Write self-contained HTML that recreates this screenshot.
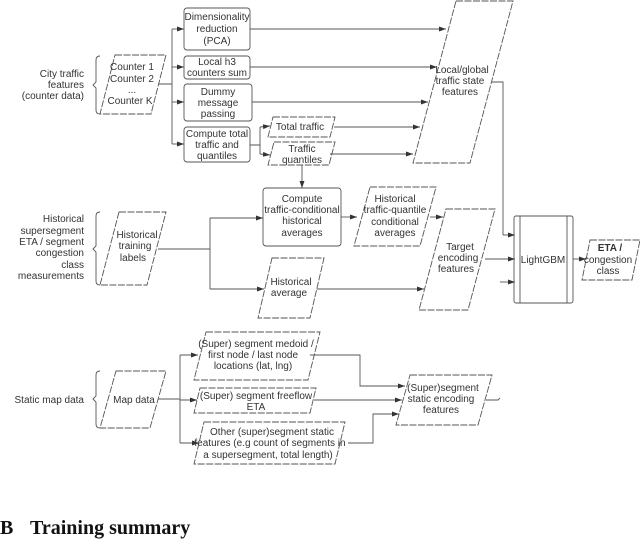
<!DOCTYPE html>
<html><head><meta charset="utf-8"><style>
html,body{margin:0;padding:0;background:#fff;}
svg{display:block;font-family:"Liberation Sans",sans-serif;}
text{font-size:10px;fill:#333;}
.p{fill:none;stroke:#555;stroke-width:0.9;stroke-dasharray:7 1.5;}
.r{fill:none;stroke:#555;stroke-width:0.9;}
.l{fill:none;stroke:#555;stroke-width:0.9;}
.m{text-anchor:middle;}
.e{text-anchor:end;}
</style></head><body>
<svg width="640" height="540" viewBox="0 0 640 540">
<defs><marker id="a" markerWidth="8" markerHeight="6" refX="7" refY="3" orient="auto" markerUnits="userSpaceOnUse"><path d="M0,0.5 L7,3 L0,5.5 Z" fill="#333"/></marker></defs>

<!-- City traffic -->
<text class="e" x="84" y="77">City traffic</text>
<text class="e" x="84" y="88">features</text>
<text class="e" x="84" y="99">(counter data)</text>
<path class="l" d="M100,56 Q96,56 96,60 L96,82 L93,85 L96,88 L96,110 Q96,114 100,114"/>
<path class="p" d="M115,55 L166,55 L151,114 L100,114 Z"/>
<text class="m" x="132" y="70">Counter 1</text>
<text class="m" x="132" y="82">Counter 2</text>
<text class="m" x="132" y="93">...</text>
<text class="m" x="130" y="104">Counter K</text>
<path class="l" d="M159,84 L172,84 M172,29 L172,144"/>
<path class="l" marker-end="url(#a)" d="M172,29 L184,29"/>
<path class="l" marker-end="url(#a)" d="M172,67 L184,67"/>
<path class="l" marker-end="url(#a)" d="M172,102 L184,102"/>
<path class="l" marker-end="url(#a)" d="M172,144 L184,144"/>

<rect class="r" x="184" y="8" width="66" height="42" rx="3"/>
<text class="m" x="217" y="20">Dimensionality</text>
<text class="m" x="217" y="32">reduction</text>
<text class="m" x="217" y="44">(PCA)</text>
<rect class="r" x="184" y="56" width="66" height="23" rx="3"/>
<text class="m" x="217" y="65">Local h3</text>
<text class="m" x="217" y="76">counters sum</text>
<rect class="r" x="184" y="84" width="68" height="37" rx="3"/>
<text class="m" x="218" y="95">Dummy</text>
<text class="m" x="218" y="106">message</text>
<text class="m" x="218" y="117">passing</text>
<rect class="r" x="184" y="127" width="66" height="35" rx="3"/>
<text class="m" x="217" y="137">Compute total</text>
<text class="m" x="217" y="148">traffic and</text>
<text class="m" x="217" y="159">quantiles</text>

<path class="l" marker-end="url(#a)" d="M250,29 L446,29"/>
<path class="l" marker-end="url(#a)" d="M250,67 L437,67"/>
<path class="l" marker-end="url(#a)" d="M252,102 L428,102"/>
<path class="l" d="M250,145 L260,145 M260,127 L260,154"/>
<path class="l" marker-end="url(#a)" d="M260,127 L270,126"/>
<path class="l" marker-end="url(#a)" d="M260,154 L270,155"/>
<path class="p" d="M273,117 L335,117 L330,137 L268,137 Z"/>
<text class="m" x="300" y="130">Total traffic</text>
<path class="p" d="M274,142 L335,142 L329,165 L268,165 Z"/>
<text class="m" x="302" y="152">Traffic</text>
<text class="m" x="302" y="163">quantiles</text>
<path class="l" marker-end="url(#a)" d="M334,127 L420,127"/>
<path class="l" marker-end="url(#a)" d="M330,154 L413,154"/>

<path class="p" d="M456,1 L513,1 L470,163 L413,163 Z"/>
<text class="m" x="462" y="73">Local/global</text>
<text class="m" x="460" y="84">traffic state</text>
<text class="m" x="460" y="95">features</text>
<path class="l" d="M492,82 L503,82 L503,235"/>
<path class="l" marker-end="url(#a)" d="M503,235 L515,235"/>

<!-- Historical -->
<path class="l" marker-end="url(#a)" d="M302,165 L302,188"/>
<rect class="r" x="263" y="188" width="78" height="58" rx="3"/>
<text class="m" x="302" y="202">Compute</text>
<text class="m" x="302" y="213">traffic-conditional</text>
<text class="m" x="302" y="224">historical</text>
<text class="m" x="302" y="236">averages</text>
<path class="l" marker-end="url(#a)" d="M341,217 L357,217"/>
<path class="p" d="M370,187 L436,187 L420,246 L354,246 Z"/>
<text class="m" x="395" y="202">Historical</text>
<text class="m" x="395" y="213">traffic-quantile</text>
<text class="m" x="395" y="225">conditional</text>
<text class="m" x="395" y="236">averages</text>
<path class="l" marker-end="url(#a)" d="M430,217 L443,217"/>
<path class="p" d="M446,209 L495,209 L468,310 L419,310 Z"/>
<text class="m" x="460" y="250">Target</text>
<text class="m" x="458" y="261">encoding</text>
<text class="m" x="456" y="272">features</text>
<path class="l" marker-end="url(#a)" d="M485,259 L515,259"/>
<path class="l" marker-end="url(#a)" d="M500,282 L515,282"/>

<text class="e" x="84" y="222">Historical</text>
<text class="e" x="84" y="234">supersegment</text>
<text class="e" x="84" y="245">ETA / segment</text>
<text class="e" x="84" y="256">congestion</text>
<text class="e" x="84" y="268">class</text>
<text class="e" x="84" y="279">measurements</text>
<path class="l" d="M100,212 Q96,212 96,216 L96,246 L93,249 L96,252 L96,281 Q96,285 100,285"/>
<path class="p" d="M119,212 L166,212 L147,285 L100,285 Z"/>
<text class="m" x="137" y="238">Historical</text>
<text class="m" x="135" y="249">training</text>
<text class="m" x="133" y="261">labels</text>
<path class="l" d="M158,249 L210,249 M210,218 L210,289"/>
<path class="l" marker-end="url(#a)" d="M210,218 L263,218"/>
<path class="l" marker-end="url(#a)" d="M210,289 L264,289"/>
<path class="p" d="M272,258 L324,258 L310,318 L258,318 Z"/>
<text class="m" x="291" y="285">Historical</text>
<text class="m" x="289" y="296">average</text>
<path class="l" marker-end="url(#a)" d="M317,289 L424,289"/>

<!-- LightGBM -->
<rect class="r" x="514" y="216" width="59" height="87" rx="2"/>
<path class="l" d="M520,216 L520,303 M567,216 L567,303"/>
<text class="m" x="543" y="263">LightGBM</text>
<path class="l" marker-end="url(#a)" d="M573,259 L586,259"/>
<path class="p" d="M590,240 L640,240 L632,280 L582,280 Z"/>
<text class="m" x="610" y="251" style="font-weight:bold">ETA /</text>
<text class="m" x="608" y="263">congestion</text>
<text class="m" x="608" y="274">class</text>

<!-- Static map -->
<text class="e" x="84" y="403">Static map data</text>
<path class="l" d="M100,371 Q96,371 96,375 L96,396 L93,399 L96,402 L96,424 Q96,428 100,428"/>
<path class="p" d="M116,371 L166,371 L150,428 L100,428 Z"/>
<text class="m" x="134" y="403">Map data</text>
<path class="l" d="M158,399 L180,399 M180,355 L180,443"/>
<path class="l" marker-end="url(#a)" d="M180,355 L198,355"/>
<path class="l" marker-end="url(#a)" d="M180,400 L197,400"/>
<path class="l" marker-end="url(#a)" d="M180,443 L199,443"/>
<path class="p" d="M206,332 L320,332 L308,380 L194,380 Z"/>
<text class="m" x="256" y="347">(Super) segment medoid /</text>
<text class="m" x="253" y="358">first node / last node</text>
<text class="m" x="253" y="369">locations (lat, lng)</text>
<path class="p" d="M200,388 L316,388 L310,413 L194,413 Z"/>
<text class="m" x="256" y="399">(Super) segment freeflow</text>
<text class="m" x="256" y="410">ETA</text>
<path class="p" d="M204,422 L345,422 L335,464 L194,464 Z"/>
<text class="m" x="272" y="435">Other (super)segment static</text>
<text class="m" x="270" y="446">features (e.g count of segments in</text>
<text class="m" x="268" y="458">a supersegment, total length)</text>
<path class="l" marker-end="url(#a)" d="M310,355 L360,355 L360,386 L405,386"/>
<path class="l" marker-end="url(#a)" d="M314,400 L402,400"/>
<path class="l" marker-end="url(#a)" d="M348,443 L373,443 L373,414 L399,414"/>
<path class="p" d="M410,375 L492,375 L478,425 L396,425 Z"/>
<text class="m" x="443" y="391">(Super)segment</text>
<text class="m" x="441" y="402">static encoding</text>
<text class="m" x="441" y="413">features</text>
<path class="l" d="M486,400 L498,400 L500,398"/>

<text x="0" y="534" style="font-family:'Liberation Serif',serif;font-weight:bold;font-size:20px;fill:#111">B</text>
<text x="30" y="534" style="font-family:'Liberation Serif',serif;font-weight:bold;font-size:20px;fill:#111">Training summary</text>
</svg>
</body></html>
